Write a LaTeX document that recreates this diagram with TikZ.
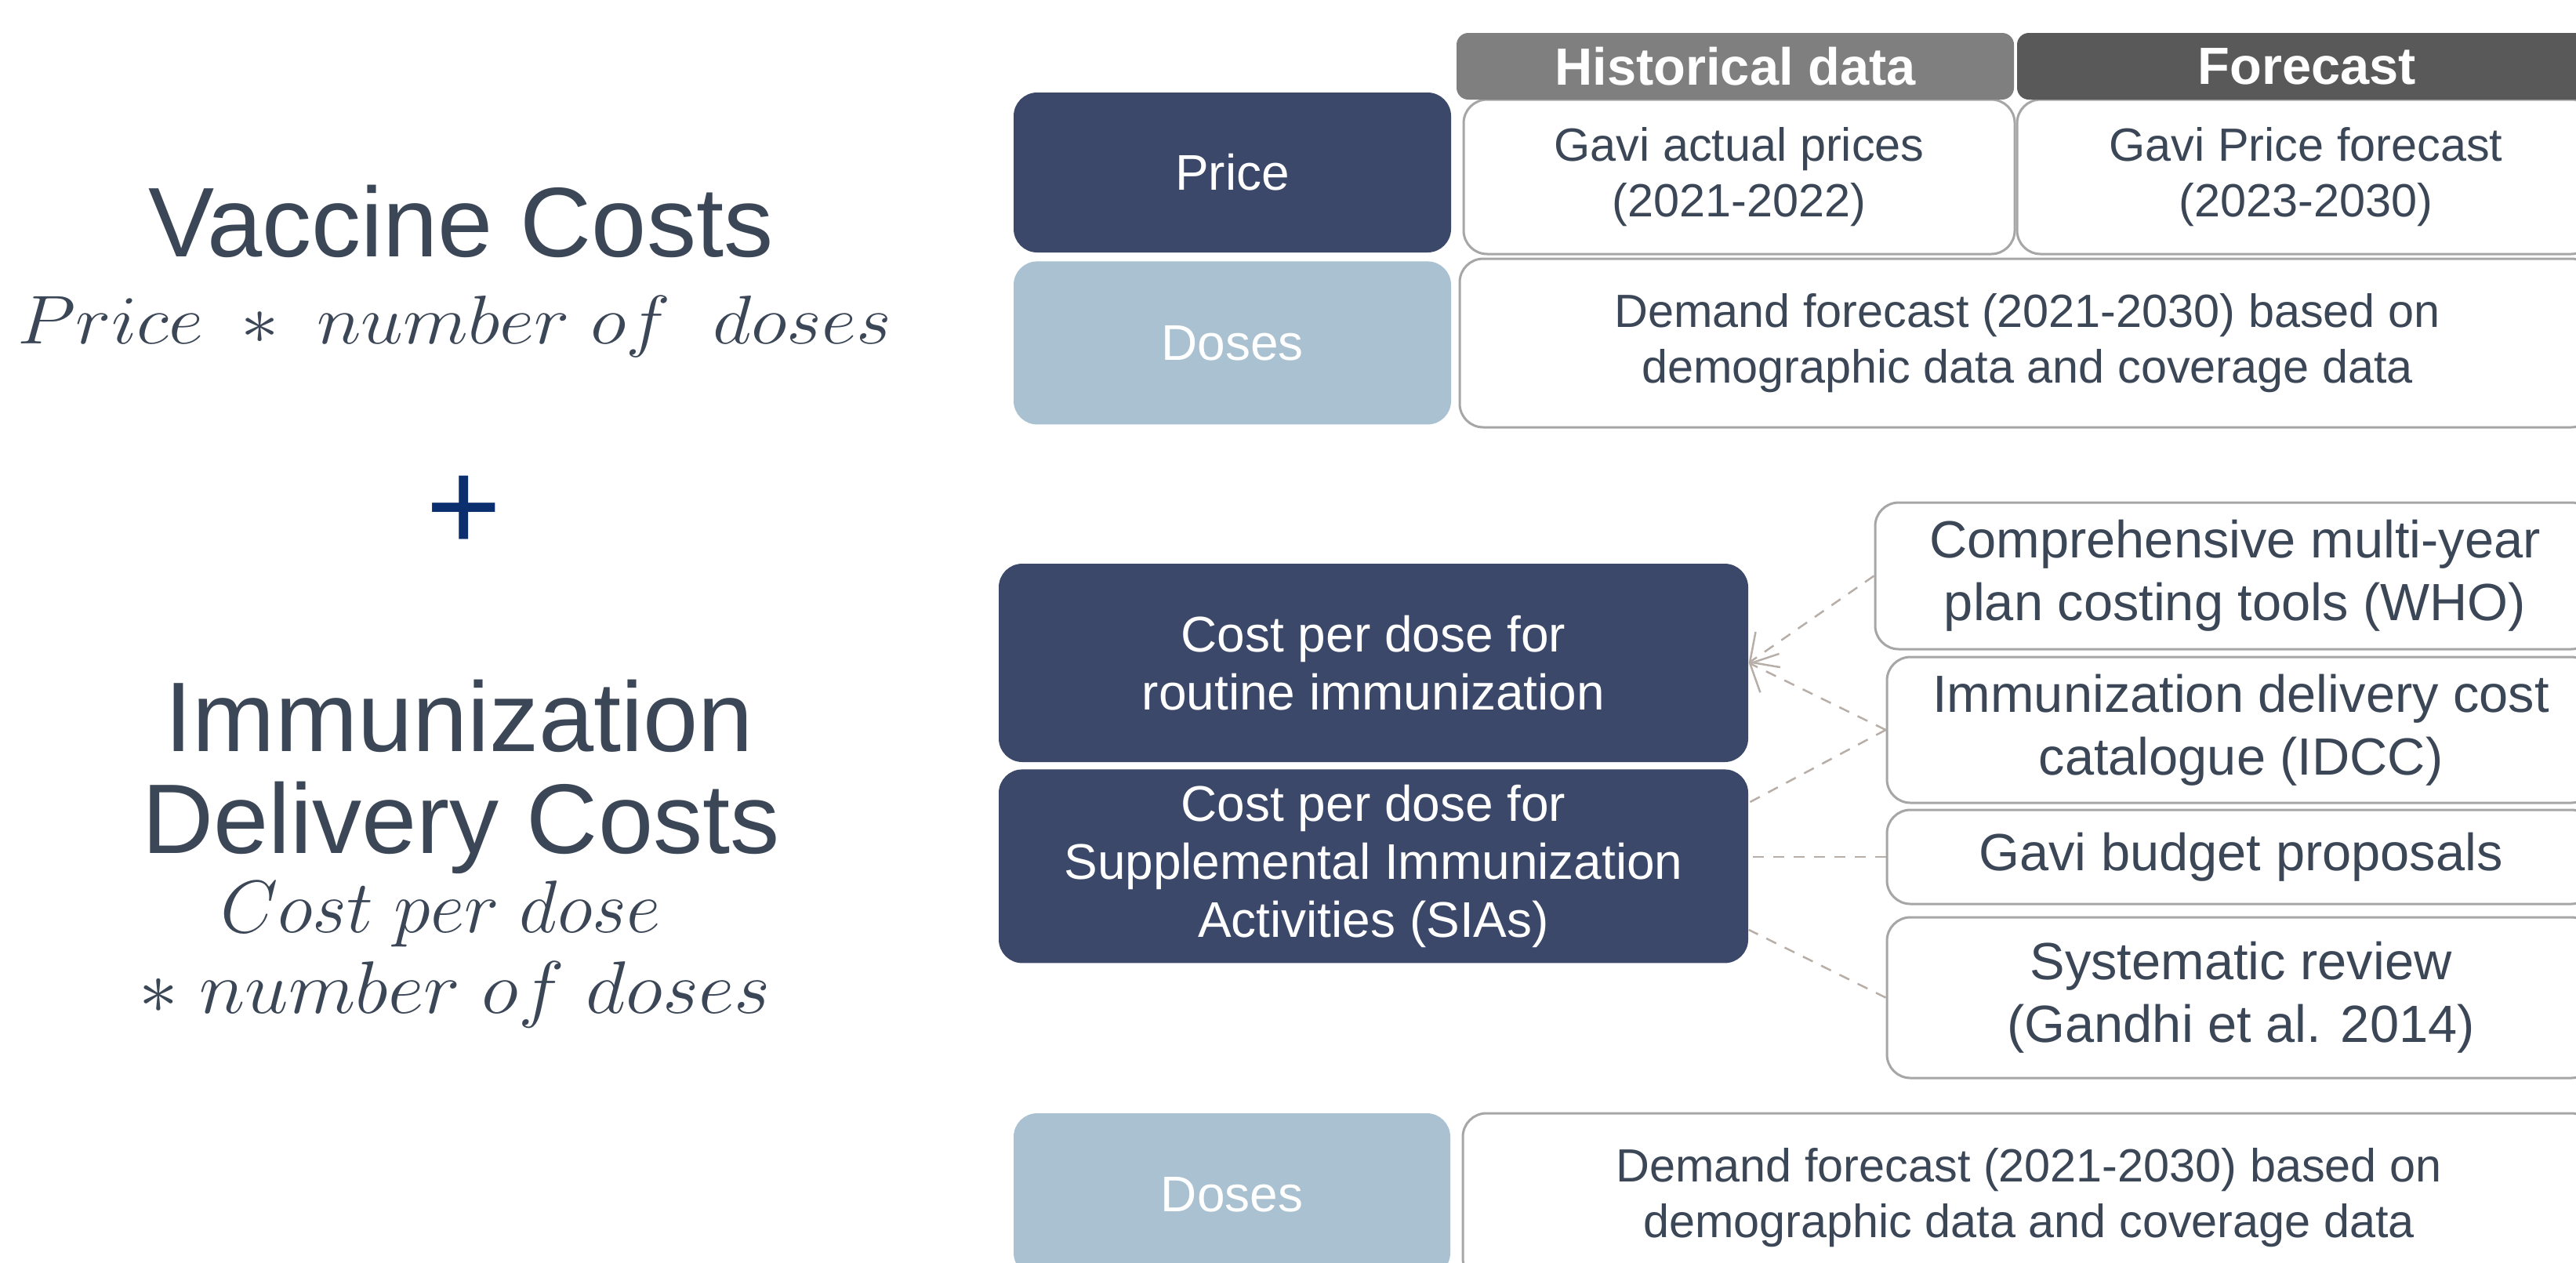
\RequirePackage{fix-cm}
\documentclass[tikz,border=0pt]{standalone}
\usepackage{graphicx}
\usepackage{fontspec}
\setmainfont{Liberation Sans}
\usetikzlibrary{arrows.meta,positioning,calc}

\definecolor{navy}{HTML}{3B4869}
\definecolor{steel}{HTML}{A9C1D0}
\definecolor{ink}{HTML}{3B4656}
\definecolor{rim}{HTML}{A6A6A6}
\definecolor{histgray}{HTML}{7F7F7F}
\definecolor{fcstgray}{HTML}{595959}
\definecolor{plusblue}{HTML}{0B2F6E}
\definecolor{linkgray}{HTML}{B8AEA8}

\begin{document}
\begin{tikzpicture}[
    x=1cm, y=-1cm,
    node distance=0.1cm,
    keybox/.style={rectangle, rounded corners=0.3cm, fill=navy, text=white, align=center, inner sep=0pt, font=\fontsize{18.2}{21}\selectfont},
    dosebox/.style={keybox, fill=steel},
    infobox/.style={rectangle, rounded corners=0.3cm, draw=rim, line width=0.03cm, fill=white, text=ink, align=center, inner sep=0pt, font=\fontsize{16.9}{20}\selectfont},
    srcbox/.style={infobox, font=\fontsize{19}{22.8}\selectfont},
    headbox/.style={rectangle, rounded corners=0.15cm, text=white, inner sep=0pt, minimum height=0.85cm, font=\fontsize{19}{21}\selectfont\bfseries},
    bigtext/.style={anchor=base, text=ink, inner sep=0pt, font=\fontsize{35.9}{42.7}\selectfont},
    eqn/.style={anchor=base, text=ink, inner sep=0pt, font=\fontsize{25}{30}\selectfont},
    link/.style={linkgray, line width=0.025cm, dash pattern=on 0.14cm off 0.12cm},
    feed/.style={-{Straight Barb[length=0.28cm,width=0.55cm]}},
]
    \useasboundingbox (0,0) rectangle (32.86,16.10);
    \clip (0,0) rectangle (32.86,16.10);

    % left column: the two cost terms
    \node[bigtext] (vaccine) at (5.88,3.27) {Vaccine Costs};
    \node[eqn] (vaccineeq) at (5.80,4.38) {\scalebox{1.1}[1]{$Price\ *\ number\ of\ \ doses$}};
    \node[text=plusblue, inner sep=0pt, font=\fontsize{47}{50}\selectfont] (plus) at (5.92,6.55) {+};
    \node[bigtext] (delivery) at (5.86,9.58) {Immunization};
    \node[bigtext] (delivery2) at ($(delivery.base)+(0.02,1.30)$) {Delivery Costs};
    \node[eqn, font=\fontsize{27}{30}\selectfont] (deliveryeq) at (5.62,11.89) {$Cost\ per\ dose$};
    \node[eqn, font=\fontsize{27}{30}\selectfont] (deliveryeq2) at ($(deliveryeq.base)+(0.18,1.03)$) {\scalebox{1.05}[1]{$*\ number\ of\ doses$}};

    % vaccine costs
    \node[keybox, minimum width=5.58cm, minimum height=2.04cm] (price) at (15.72,2.20) {Price};
    \node[dosebox, minimum width=5.58cm, minimum height=2.08cm, below=of price] (doses) {Doses};
    \node[infobox, minimum width=7.03cm, minimum height=1.97cm] (actual) at (22.185,2.255) {Gavi actual prices\\(2021-2022)};
    \node[infobox, minimum width=7.37cm, minimum height=1.97cm] (forecast) at (29.415,2.255) {Gavi Price forecast\\(2023-2030)};
    \node[infobox, minimum width=14.48cm, minimum height=2.15cm] (demand) at (25.86,4.375) {Demand forecast (2021-2030) based on\\demographic data and coverage data};
    \node[headbox, fill=histgray, minimum width=7.11cm] (hist) at (22.135,0.845) {Historical data};
    \node[headbox, fill=fcstgray, minimum width=7.40cm] (fcst) at (29.43,0.845) {Forecast};

    % delivery costs
    \node[keybox, minimum width=9.56cm, minimum height=2.53cm] (routine) at (17.52,8.455) {Cost per dose for\\routine immunization};
    \node[keybox, minimum width=9.56cm, minimum height=2.47cm, below=0.08cm of routine] (sia) {Cost per dose for\\Supplemental Immunization\\Activities (SIAs)};
    \node[srcbox, minimum width=9.18cm, minimum height=1.87cm] (cmyp) at (28.51,7.345) {Comprehensive multi-year\\plan costing tools (WHO)};
    \node[srcbox, minimum width=9.03cm, minimum height=1.86cm] (idcc) at (28.585,9.31) {Immunization delivery cost\\catalogue (IDCC)};
    \node[srcbox, minimum width=9.03cm, minimum height=1.20cm] (budget) at (28.585,10.93) {Gavi budget proposals};
    \node[srcbox, minimum width=9.03cm, minimum height=2.05cm] (review) at (28.585,12.725) {Systematic review\\(Gandhi et al. 2014)};
    \node[dosebox, minimum width=5.57cm, minimum height=2.08cm] (doses2) at (15.715,15.24) {Doses};
    \node[infobox, minimum width=14.44cm, minimum height=2.15cm] (demand2) at (25.88,15.275) {Demand forecast (2021-2030) based on\\demographic data and coverage data};

    \draw[link, feed] (cmyp.west) -- (routine.east);
    \draw[link, feed] (idcc.west) -- (routine.east);
    \draw[link] (idcc.west) -- ($(sia.east)+(0,-0.81)$);
    \draw[link] (budget.west) -- (sia.east |- budget.west);
    \draw[link] (review.west) -- ($(sia.east)+(0,0.81)$);
\end{tikzpicture}
\end{document}
